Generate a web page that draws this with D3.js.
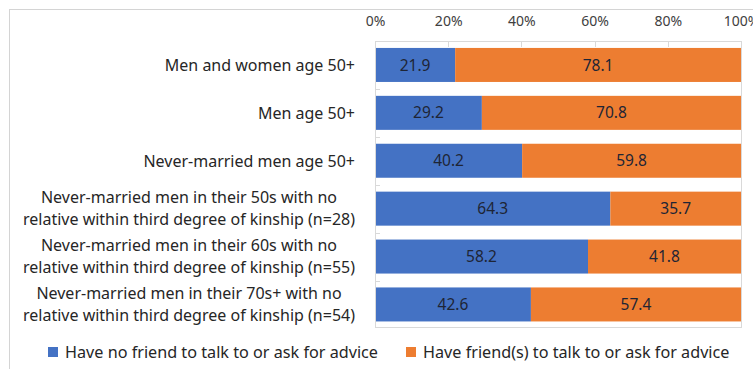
<!DOCTYPE html>
<html>
<head>
<meta charset="utf-8">
<script src="https://cdn.jsdelivr.net/npm/d3@7"></script>
<style>
  html, body { margin: 0; padding: 0; background: #fff; }
  svg { display: block; font-family: "Noto Sans", "Open Sans", sans-serif; }
</style>
</head>
<body>
<svg id="chart" width="753" height="369"></svg>
<script>
// Survey groups (each entry is a list of label lines)
const categories = [
  ["Men and women age 50+"],
  ["Men age 50+"],
  ["Never-married men age 50+"],
  ["Never-married men in their 50s with no", "relative within third degree of kinship (n=28)"],
  ["Never-married men in their 60s with no", "relative within third degree of kinship (n=55)"],
  ["Never-married men in their 70s+ with no", "relative within third degree of kinship (n=54)"]
];
const noFriend = [21.9, 29.2, 40.2, 64.3, 58.2, 42.6];
const haveFriend = [78.1, 70.8, 59.8, 35.7, 41.8, 57.4];
const seriesNames = ["Have no friend to talk to or ask for advice", "Have friend(s) to talk to or ask for advice"];
const tickValues = [0, 20, 40, 60, 80, 100];

const colors = ["#4472C4", "#ED7D31"];
const svg = d3.select("#chart");

// outer frame
svg.append("rect")
  .attr("x", 9.5).attr("y", 9.5).attr("width", 800).attr("height", 400)
  .attr("fill", "none").attr("stroke", "#d4d4d4").attr("stroke-width", 1);

const plot = { left: 375, right: 741, top: 41, bottom: 327 };

const x = d3.scaleLinear().domain([0, 100]).range([plot.left, plot.right]);
const y = d3.scaleBand()
  .domain(d3.range(categories.length))
  .range([plot.top, plot.top + 6 * 47.9])
  .paddingInner(0.29).paddingOuter(0.145);

// stacked rows
const rows = categories.map((c, i) => ({ i, values: [noFriend[i], haveFriend[i]] }));

rows.forEach(r => {
  let start = 0;
  r.values.forEach((v, s) => {
    svg.append("rect")
      .attr("x", x(start))
      .attr("y", y(r.i))
      .attr("width", x(start + v) - x(start))
      .attr("height", y.bandwidth())
      .attr("fill", colors[s]);
    svg.append("text")
      .attr("x", x(start + v / 2))
      .attr("y", y(r.i) + y.bandwidth() / 2)
      .attr("dy", "0.36em")
      .attr("text-anchor", "middle")
      .attr("font-size", 15.5)
      .attr("fill", "#1e2535")
      .text(v.toFixed(1));
    start += v;
  });
});

// plot frame
svg.append("rect")
  .attr("x", plot.left + 0.5).attr("y", plot.top + 0.5)
  .attr("width", plot.right - plot.left).attr("height", plot.bottom - plot.top)
  .attr("fill", "none").attr("stroke", "#d9d9d9");

// top axis
const xAxis = d3.axisTop(x).tickValues(tickValues).tickFormat(d => d + "%").tickSize(0).tickPadding(0);
const gx = svg.append("g").attr("transform", `translate(0,${plot.top})`).call(xAxis);
gx.select(".domain").remove();
gx.selectAll("text").attr("y", -20).attr("dy", "0.36em")
  .attr("font-size", 14).attr("fill", "#404040").attr("font-family", "Noto Sans, sans-serif");
// inward tick marks
svg.append("g").selectAll("line").data(tickValues).join("line")
  .attr("x1", d => Math.round(x(d)) + 0.5).attr("x2", d => Math.round(x(d)) + 0.5)
  .attr("y1", plot.top).attr("y2", plot.top + 6)
  .attr("stroke", "#d9d9d9");

// category boundary ticks on left edge
svg.append("g").selectAll("line").data(d3.range(1, categories.length)).join("line")
  .attr("x1", plot.left).attr("x2", plot.left + 5)
  .attr("y1", d => Math.round(y(d) - y.step() * y.paddingInner() / 2) + 0.5)
  .attr("y2", d => Math.round(y(d) - y.step() * y.paddingInner() / 2) + 0.5)
  .attr("stroke", "#d9d9d9");

// category labels: block right-aligned, lines centred within the block
const labelRight = 355;
const lineH = 22;
categories.forEach((lines, i) => {
  const cy = y(i) + y.bandwidth() / 2;
  const t = svg.append("text")
    .attr("font-size", 16)
    .attr("fill", "#262626")
    .attr("text-anchor", "middle");
  const spans = lines.map((ln, k) => t.append("tspan")
    .attr("y", cy + (k - (lines.length - 1) / 2) * lineH)
    .attr("dy", "0.36em")
    .text(ln));
  const maxW = d3.max(spans, s => s.node().getComputedTextLength());
  spans.forEach(s => s.attr("x", labelRight - maxW / 2));
});

// legend
const legendItems = [{ x: 48 }, { x: 406 }];
legendItems.forEach((it, s) => {
  svg.append("rect").attr("x", it.x).attr("y", 347).attr("width", 10).attr("height", 10).attr("fill", colors[s]);
  svg.append("text").attr("x", it.x + 17).attr("y", 352).attr("dy", "0.36em")
    .attr("font-size", 16.2).attr("fill", "#262626").text(seriesNames[s]);
});
</script>
</body>
</html>
